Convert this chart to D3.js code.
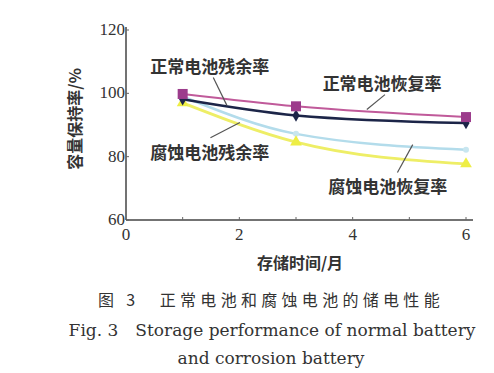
<!DOCTYPE html>
<html>
<head>
<meta charset="utf-8">
<script src="https://cdn.jsdelivr.net/npm/d3@7"></script>
<style>
  body { margin: 0; background: #fff; }
</style>
</head>
<body>
<div class="chart"></div>
<script>
// storage months
var months = [1, 3, 6];
// capacity retention, %
var normalRecovery = [99.8, 95.9, 92.5];
var normalResidual = [98.1, 93.0, 90.6];
var corrodedLight = [99.0, 87.2, 82.2];
var corrodedYellow = [97.0, 84.6, 77.7];
var xTicks = [0, 2, 4, 6];
var yTicks = [60, 80, 100, 120];

// label text, anchor point (data units), pointer from/to (data units)
var labels = ["正常电池残余率", "正常电池恢复率", "腐蚀电池残余率", "腐蚀电池恢复率"];
var labelPos = [[1.48, 106.4], [4.52, 100.9], [1.48, 79.3], [4.62, 68.5]];
var pointerFrom = [[1.54, 105.0], [4.57, 99.6], [1.49, 86.0], [4.79, 75.0]];
var pointerTo = [[1.78, 96.2], [4.25, 94.9], [2.01, 90.8], [5.06, 83.8]];

var svg = d3.select(".chart")
            .append("svg")
            .attr("width", 494)
            .attr("height", 373)
            .style("background-color", "white");

var x = d3.scaleLinear().domain([0, 6]).range([126, 466]);
var y = d3.scaleLinear().domain([60, 120]).range([220, 30]);

var serif = "'Liberation Serif', 'DejaVu Serif', serif";
var wideSerif = "'DejaVu Serif', serif";
var cjk = "'Noto Sans CJK SC', sans-serif";

// axes
svg.append("line")
   .attr("x1", x(0)).attr("y1", y(60))
   .attr("x2", x(0)).attr("y2", y(120) - 3)
   .attr("stroke", "#444").attr("stroke-width", 1.5);
svg.append("line")
   .attr("x1", x(0)).attr("y1", y(60))
   .attr("x2", x(6) + 7).attr("y2", y(60))
   .attr("stroke", "#444").attr("stroke-width", 1.5);

// small inward ticks
for (var i = 1; i <= 6; i++) {
  svg.append("line")
     .attr("x1", x(i)).attr("y1", y(60))
     .attr("x2", x(i)).attr("y2", y(60) - 3)
     .attr("stroke", "#666").attr("stroke-width", 1);
}
yTicks.forEach(function(t) {
  svg.append("line")
     .attr("x1", x(0)).attr("y1", y(t))
     .attr("x2", x(0) + 3).attr("y2", y(t))
     .attr("stroke", "#666").attr("stroke-width", 1);
  svg.append("text")
     .attr("text-anchor", "end")
     .attr("x", x(0) - 1)
     .attr("y", y(t) + 5)
     .text(t)
     .style("font-family", serif)
     .style("font-size", 17)
     .style("fill", "#333");
});
xTicks.forEach(function(t) {
  svg.append("text")
     .attr("text-anchor", "middle")
     .attr("x", x(t))
     .attr("y", y(60) + 20)
     .text(t)
     .style("font-family", serif)
     .style("font-size", 17)
     .style("fill", "#333");
});

// axis titles
svg.append("text")
   .attr("text-anchor", "middle")
   .attr("x", 300)
   .attr("y", 269)
   .text("存储时间/月")
   .style("font-family", cjk)
   .style("font-weight", "bold")
   .style("font-size", 16)
   .style("fill", "#333");
svg.append("text")
   .attr("text-anchor", "middle")
   .attr("transform", "translate(81,119) rotate(-90)")
   .text("容量保持率/%")
   .style("font-family", cjk)
   .style("font-weight", "bold")
   .style("font-size", 16)
   .style("fill", "#333");

// series
var line = d3.line()
             .x(function(d) { return x(d[0]); })
             .y(function(d) { return y(d[1]); })
             .curve(d3.curveMonotoneX);

function series(vals, color, width) {
  svg.append("path")
     .datum(d3.zip(months, vals))
     .attr("d", line)
     .attr("fill", "none")
     .attr("stroke", color)
     .attr("stroke-width", width);
}
series(corrodedLight, "#b3dceb", 2.5);
series(corrodedYellow, "#eeee66", 2.8);
series(normalRecovery, "#c05a9a", 2);
series(normalResidual, "#1c2548", 2.5);

// markers
d3.zip(months, corrodedLight).forEach(function(d) {
  svg.append("circle")
     .attr("cx", x(d[0])).attr("cy", y(d[1])).attr("r", 3)
     .attr("fill", "#c8e6f0");
});
d3.zip(months, corrodedYellow).forEach(function(d) {
  svg.append("path")
     .attr("d", d3.symbol(d3.symbolTriangle, 60)())
     .attr("transform", "translate(" + x(d[0]) + "," + y(d[1]) + ")")
     .attr("fill", "#eeee44");
});
d3.zip(months, normalResidual).forEach(function(d) {
  svg.append("path")
     .attr("d", d3.symbol(d3.symbolDiamond, 45)())
     .attr("transform", "translate(" + x(d[0]) + "," + y(d[1]) + ")")
     .attr("fill", "#1c2548");
});
d3.zip(months, normalRecovery).forEach(function(d) {
  svg.append("rect")
     .attr("x", x(d[0]) - 5).attr("y", y(d[1]) - 5)
     .attr("width", 10).attr("height", 10)
     .attr("fill", "#9c3c8c");
});

// labels and pointers
labels.forEach(function(t, i) {
  svg.append("line")
     .attr("x1", x(pointerFrom[i][0])).attr("y1", y(pointerFrom[i][1]))
     .attr("x2", x(pointerTo[i][0])).attr("y2", y(pointerTo[i][1]))
     .attr("stroke", "#555").attr("stroke-width", 1.2);
  svg.append("text")
     .attr("text-anchor", "middle")
     .attr("x", x(labelPos[i][0]))
     .attr("y", y(labelPos[i][1]))
     .text(t)
     .style("font-family", cjk)
     .style("font-weight", "bold")
     .style("font-size", 17)
     .style("fill", "#333");
});

// caption
svg.append("text")
   .attr("text-anchor", "middle")
   .attr("x", 271)
   .attr("y", 306)
   .text("图 3\u2003正常电池和腐蚀电池的储电性能")
   .style("font-family", cjk)
   .style("font-size", 16)
   .style("letter-spacing", "4.3px")
   .style("fill", "#333");
svg.append("text")
   .attr("text-anchor", "middle")
   .attr("x", 272)
   .attr("y", 336)
   .text("Fig. 3\u2003Storage performance of normal battery")
   .style("font-family", wideSerif)
   .style("font-size", 17)
   .style("fill", "#333");
svg.append("text")
   .attr("text-anchor", "middle")
   .attr("x", 271)
   .attr("y", 364)
   .text("and corrosion battery")
   .style("font-family", wideSerif)
   .style("font-size", 17)
   .style("fill", "#333");
</script>
</body>
</html>
